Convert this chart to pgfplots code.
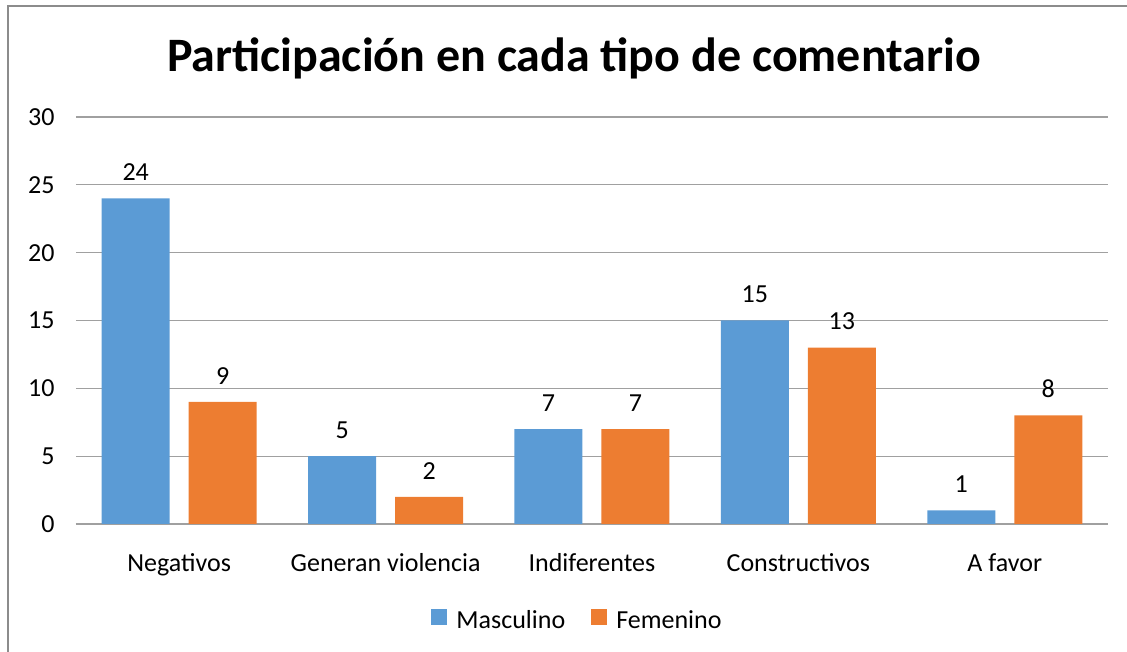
\documentclass[border=0pt]{standalone}
\usepackage{pgfplots}
\pgfplotsset{compat=1.18}
\usepackage{fontspec}
\setmainfont{Carlito}
\definecolor{cblue}{HTML}{5B9BD5}
\definecolor{corange}{HTML}{ED7D31}
\definecolor{gridgray}{HTML}{A0A0A0}
\definecolor{framegray}{HTML}{8C8C8C}
\begin{document}
\begin{tikzpicture}
\path[use as bounding box] (0pt,0pt) rectangle (1127pt,652pt);
\draw[framegray,line width=2pt] (8pt,0pt) -- (8pt,646pt) -- (1127pt,646pt);
\node[font=\bfseries\fontsize{48}{54}\selectfont,anchor=center] at (574pt,594pt) {Participación en cada tipo de comentario};
\begin{axis}[
  at={(76pt,128pt)}, anchor=south west,
  scale only axis, width=1032pt, height=407pt,
  ybar, bar width=68pt,
  xmin=-0.5, xmax=4.5, ymin=0, ymax=30,
  xtick=data, xticklabels={Negativos,Generan violencia,Indiferentes,Constructivos,A favor},
  ytick={0,5,...,30},
  axis x line*=bottom, axis y line*=left,
  x axis line style={gridgray,line width=1.2pt},
  y axis line style={draw=none},
  ymajorgrids, grid style={gridgray,line width=1.2pt},
  major tick length=0pt,
  tick label style={font=\fontsize{26}{30}\selectfont},
  yticklabel style={xshift=-18pt},
  xticklabel style={yshift=-26pt},
  /pgf/number format/assume math mode=true,
  enlarge x limits=false,
  nodes near coords,
  every node near coord/.append style={font=\fontsize{26}{30}\selectfont, black, yshift=14pt},
  legend columns=2,
  legend style={at={(axis description cs:0.485,-0.236)}, anchor=center, draw=none, font=\fontsize{26}{30}\selectfont, nodes={inner xsep=0pt}, /tikz/every odd column/.append style={column sep=9pt}, /tikz/every even column/.append style={column sep=26pt}},
  legend image code/.code={\fill[#1] (0pt,-5pt) rectangle (16pt,11pt);},
]
\addplot[fill=cblue, draw=none, bar shift=-43.5pt] coordinates {(0,24) (1,5) (2,7) (3,15) (4,1)};
\addplot[fill=corange, draw=none, bar shift=43.5pt] coordinates {(0,9) (1,2) (2,7) (3,13) (4,8)};
\legend{Masculino,Femenino}
\end{axis}
\end{tikzpicture}
\end{document}
